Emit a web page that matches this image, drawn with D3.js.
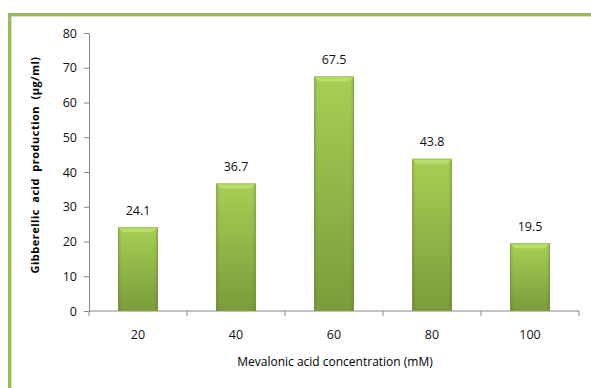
<!DOCTYPE html>
<html>
<head>
<meta charset="utf-8">
<script src="https://cdn.jsdelivr.net/npm/d3@7"></script>
<style>
  html, body { margin: 0; padding: 0; background: #fff; }
  svg { display: block; }
  text { font-family: "Open Sans", "DejaVu Sans", sans-serif; }
</style>
</head>
<body>
<svg id="chart" width="591" height="388"></svg>
<script>
// Gibberellic acid yield at each mevalonic acid concentration
const concentrations = ["20", "40", "60", "80", "100"];
const production = [24.1, 36.7, 67.5, 43.8, 19.5];
const yTicks = [0, 10, 20, 30, 40, 50, 60, 70, 80];

const svg = d3.select("#chart");
const W = 591, H = 388;
const plot = { left: 89, right: 579, top: 33, bottom: 311 };

// Page frame: green rule across the top and down the left side
svg.append("rect").attr("x", 8).attr("y", 13).attr("width", W - 8).attr("height", 3.4).attr("fill", "#9bbb59");
svg.append("rect").attr("x", 8).attr("y", 13).attr("width", 3.4).attr("height", H - 13).attr("fill", "#9bbb59");

const x = d3.scaleBand()
  .domain(concentrations)
  .range([plot.left, plot.right])
  .paddingInner(0.592)
  .paddingOuter(0.296);

const y = d3.scaleLinear().domain([0, 80]).range([plot.bottom, plot.top]);

// Bar shading
const defs = svg.append("defs");
const body = defs.append("linearGradient").attr("id", "barBody")
  .attr("x1", 0).attr("y1", 0).attr("x2", 0).attr("y2", 1);
body.append("stop").attr("offset", "0%").attr("stop-color", "#a7cf54");
body.append("stop").attr("offset", "100%").attr("stop-color", "#7a9c3b");
const side = defs.append("linearGradient").attr("id", "barSide")
  .attr("x1", 0).attr("y1", 0).attr("x2", 1).attr("y2", 0);
side.append("stop").attr("offset", "0%").attr("stop-color", "#000").attr("stop-opacity", 0.14);
side.append("stop").attr("offset", "9%").attr("stop-color", "#000").attr("stop-opacity", 0);
side.append("stop").attr("offset", "91%").attr("stop-color", "#000").attr("stop-opacity", 0);
side.append("stop").attr("offset", "100%").attr("stop-color", "#000").attr("stop-opacity", 0.14);

// Y axis
const yAxis = svg.append("g")
  .attr("transform", `translate(${plot.left},0)`)
  .call(d3.axisLeft(y).tickValues(yTicks).tickSize(5).tickPadding(7).tickFormat(d3.format("d")));
yAxis.select(".domain").attr("stroke", "#868686");
yAxis.selectAll(".tick line").attr("stroke", "#868686");
yAxis.selectAll(".tick text").attr("font-size", 12.5).attr("fill", "#111");

// X axis: ticks at category boundaries
const xAxis = svg.append("g").attr("transform", `translate(0,${plot.bottom})`);
xAxis.append("line").attr("x1", plot.left).attr("x2", plot.right).attr("stroke", "#868686");
const bounds = concentrations.map(c => x(c) - x.step() * x.paddingInner() / 2 + x.step());
bounds.unshift(plot.left);
xAxis.selectAll("line.tk").data(bounds).join("line").attr("class", "tk")
  .attr("x1", d => d).attr("x2", d => d).attr("y1", 0).attr("y2", 5).attr("stroke", "#868686");
xAxis.selectAll("text").data(concentrations).join("text")
  .attr("x", d => x(d) + x.bandwidth() / 2)
  .attr("y", 24)
  .attr("dy", "0.35em")
  .attr("text-anchor", "middle")
  .attr("font-size", 12.5).attr("fill", "#111")
  .text(d => d);

// Bars
const data = concentrations.map((c, i) => ({ c, v: production[i] }));
const bars = svg.append("g").selectAll("g").data(data).join("g");
bars.append("rect")
  .attr("x", d => x(d.c)).attr("y", d => y(d.v))
  .attr("width", x.bandwidth()).attr("height", d => y(0) - y(d.v))
  .attr("fill", "url(#barBody)");
bars.append("rect")
  .attr("x", d => x(d.c)).attr("y", d => y(d.v))
  .attr("width", x.bandwidth()).attr("height", d => y(0) - y(d.v))
  .attr("fill", "url(#barSide)");
// bevelled top edge
const bev = 5;
bars.append("path")
  .attr("d", d => {
    const x0 = x(d.c), x1 = x0 + x.bandwidth(), t = y(d.v);
    return `M${x0},${t}L${x1},${t}L${x1 - bev},${t + bev}L${x0 + bev},${t + bev}Z`;
  })
  .attr("fill", "#bade6c");
bars.append("rect")
  .attr("x", d => x(d.c) + 0.5).attr("y", d => y(d.v) + 0.5)
  .attr("width", x.bandwidth() - 1).attr("height", d => y(0) - y(d.v) - 1)
  .attr("fill", "none").attr("stroke", "#86a845").attr("stroke-opacity", 0.5);

// Value labels
bars.append("text")
  .attr("x", d => x(d.c) + x.bandwidth() / 2)
  .attr("y", d => y(d.v) - 17)
  .attr("dy", "0.35em")
  .attr("text-anchor", "middle")
  .attr("font-size", 12.5).attr("fill", "#111")
  .text(d => d.v.toFixed(1));

// Axis titles
svg.append("text")
  .attr("x", (plot.left + plot.right) / 2 + 1)
  .attr("y", 362)
  .attr("dy", "0.35em")
  .attr("text-anchor", "middle")
  .attr("font-size", 12).attr("fill", "#000")
  .text("Mevalonic acid concentration (mM)");

svg.append("text")
  .attr("transform", "translate(35,165) rotate(-90)")
  .attr("dy", "0.35em")
  .attr("text-anchor", "middle")
  .attr("font-size", 11).attr("font-weight", "bold").attr("fill", "#000")
  .attr("letter-spacing", "0.5")
  .attr("word-spacing", "3")
  .text("Gibberellic acid production (µg/ml)");
</script>
</body>
</html>
